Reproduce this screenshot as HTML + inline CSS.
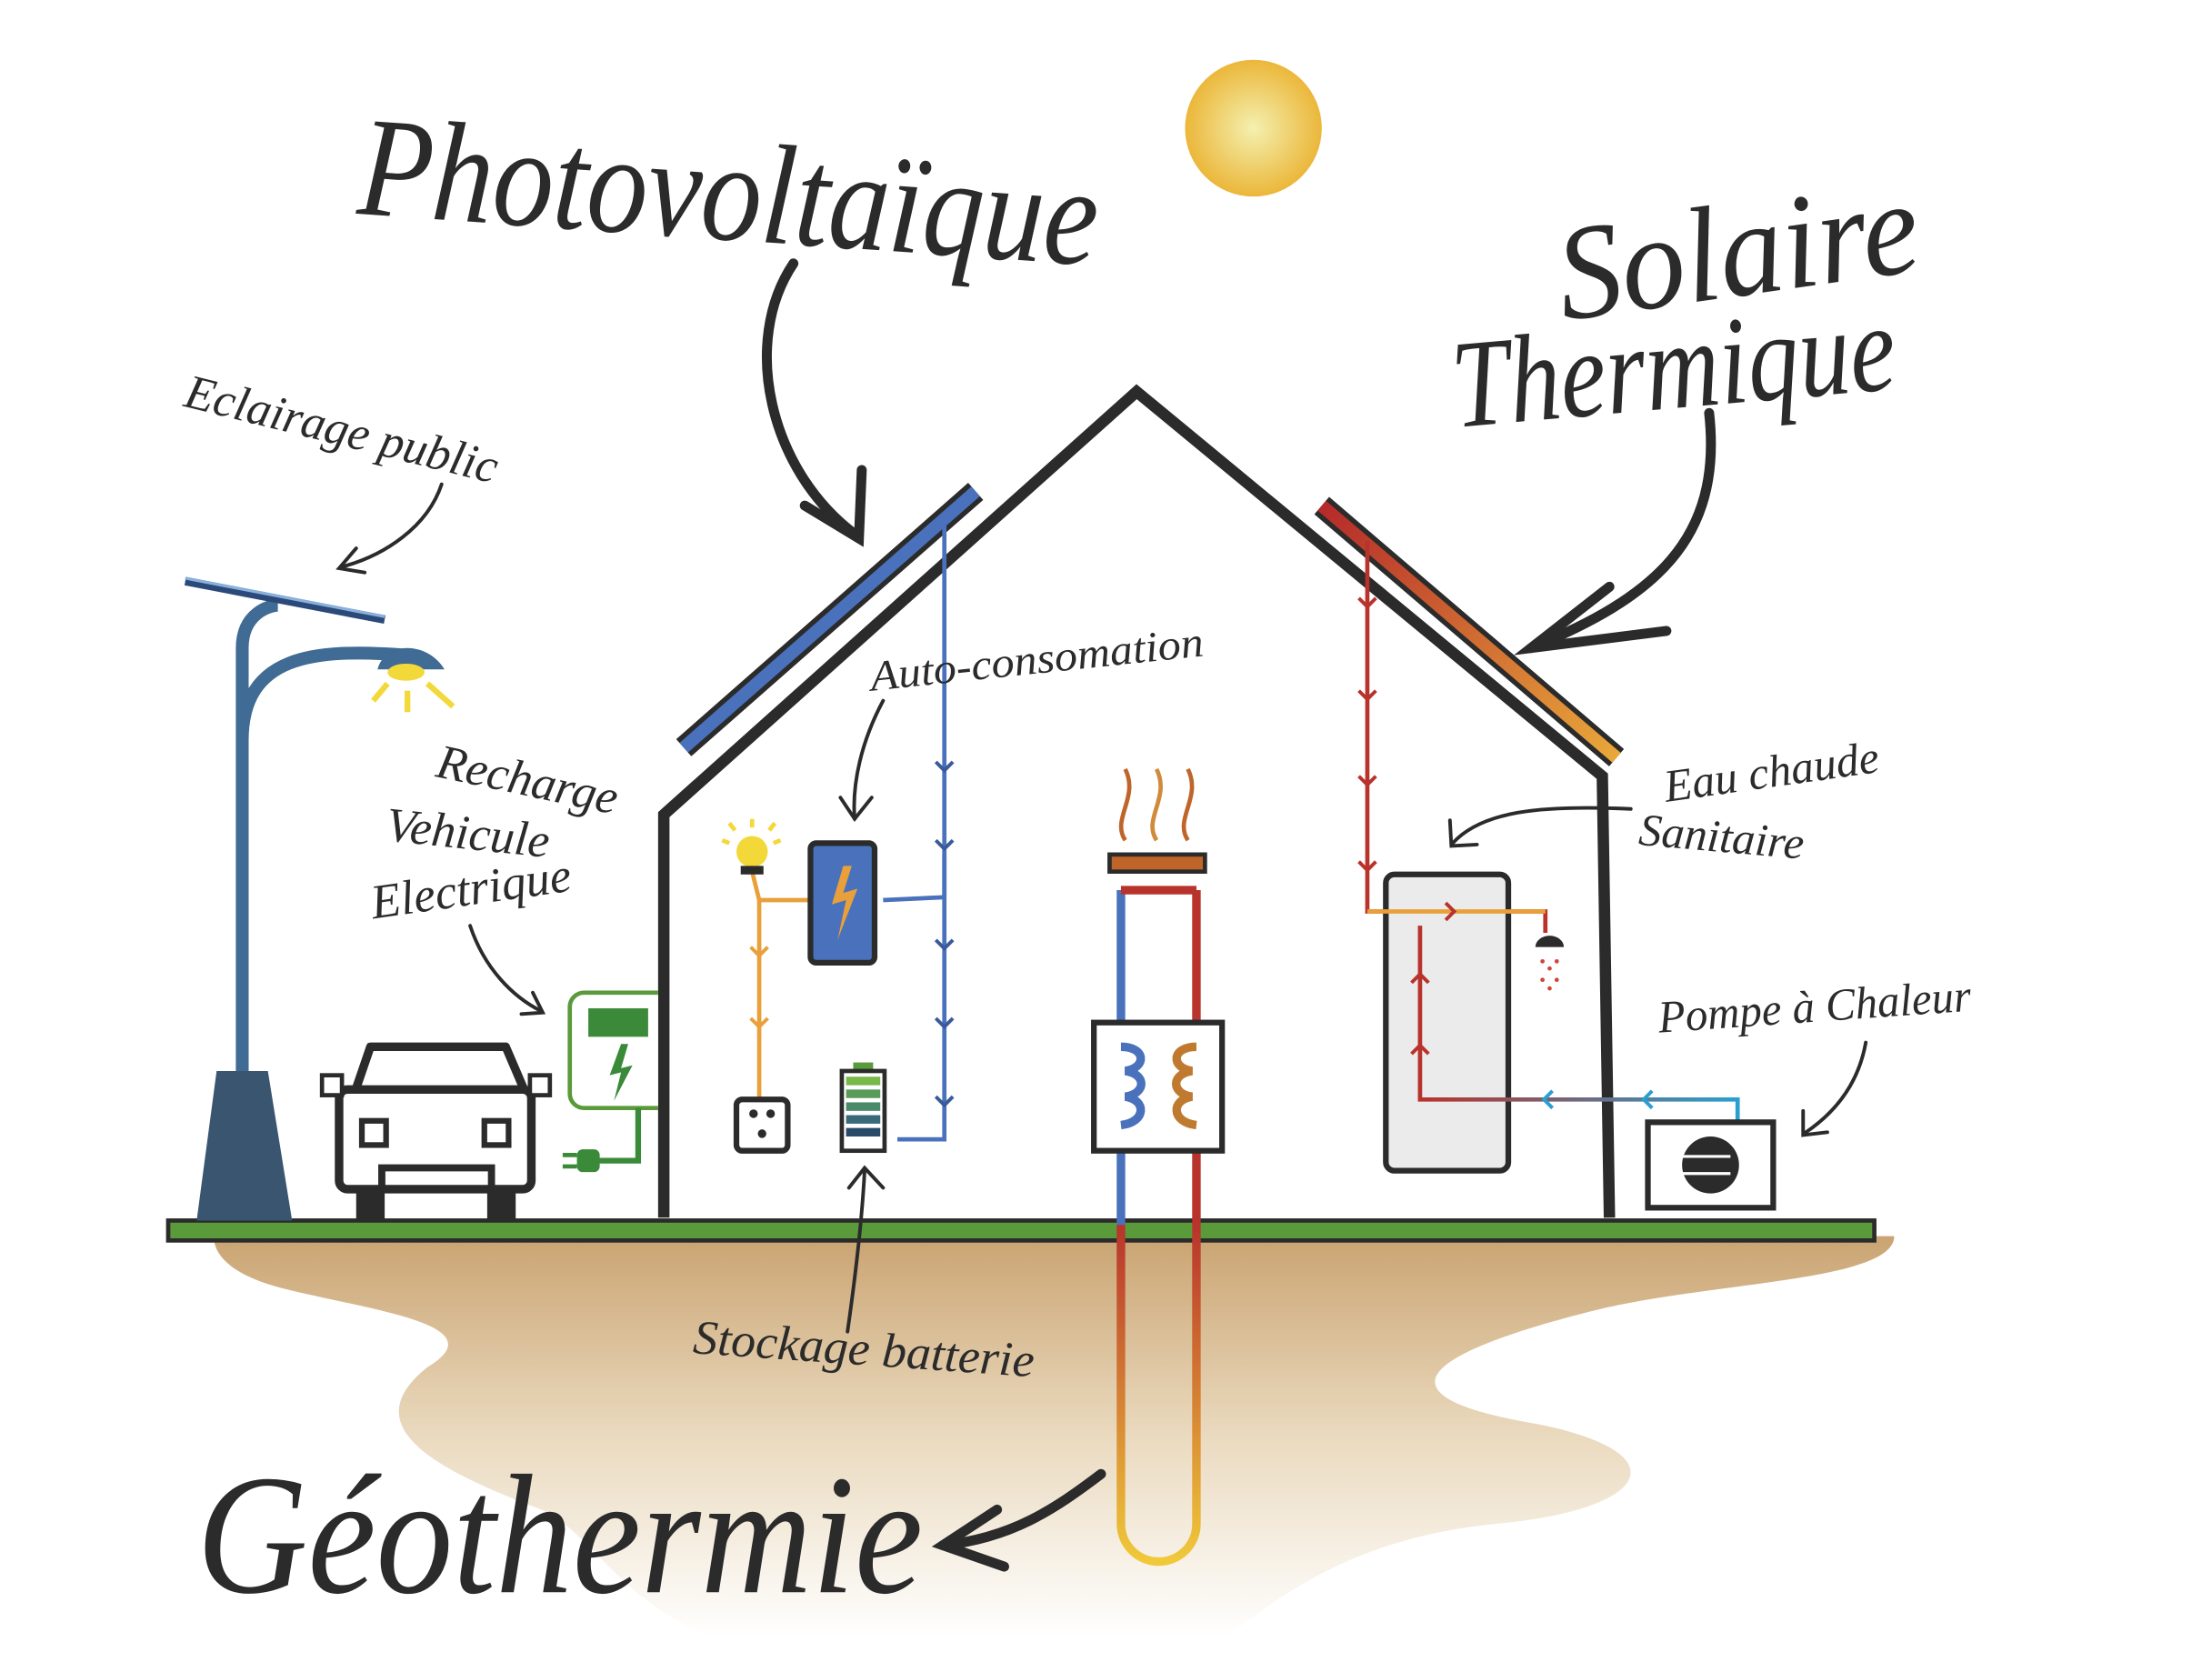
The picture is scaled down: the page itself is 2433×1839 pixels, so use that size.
<!DOCTYPE html>
<html><head><meta charset="utf-8"><style>
html,body{margin:0;padding:0;background:#fff;}
svg{display:block;}
.s{font-family:"Liberation Serif",serif;font-style:italic;fill:#2b2b2b;}
</style></head><body>
<svg width="2433" height="1839" viewBox="0 0 1553 1174" xmlns="http://www.w3.org/2000/svg">
<defs>
<radialGradient id="sun" cx="0.5" cy="0.5" r="0.5"><stop offset="0" stop-color="#f4f0b0"/><stop offset="1" stop-color="#ebb73a"/></radialGradient>
<linearGradient id="th" x1="0" y1="0" x2="1" y2="1"><stop offset="0" stop-color="#b52a2a"/><stop offset="1" stop-color="#e9a83a"/></linearGradient>
<linearGradient id="gr" x1="0" y1="0" x2="0" y2="1"><stop offset="0" stop-color="#c49a62"/><stop offset="0.5" stop-color="#e8d6b8"/><stop offset="1" stop-color="#fff"/></linearGradient>
<linearGradient id="geo2" x1="0" y1="0" x2="0" y2="1"><stop offset="0" stop-color="#b8332c"/><stop offset="1" stop-color="#f0c93a"/></linearGradient>
<linearGradient id="hp" x1="0" y1="0" x2="1" y2="0"><stop offset="0" stop-color="#b8332c"/><stop offset="1" stop-color="#2a9fd0"/></linearGradient>
</defs>
<path d="M150 868 L1330 868 C1330 900 1200 900 1120 920 C1000 950 960 980 1080 1000 C1180 1020 1160 1060 1050 1070 C950 1080 900 1120 860 1150 L500 1150 C430 1120 420 1080 380 1060 C300 1030 250 1000 300 960 C350 930 260 920 200 905 C160 895 150 880 150 868Z" fill="url(#gr)" opacity="0.9"/>
<circle cx="880" cy="90" r="48" fill="url(#sun)"/>
<path d="M466 855 L466 572 L798 275 L1125 545 L1130 855" fill="none" stroke="#2b2b2b" stroke-width="8"/>
<line x1="480" y1="525" x2="685" y2="345" stroke="#2b2b2b" stroke-width="16"/>
<line x1="480" y1="525" x2="685" y2="345" stroke="#4a72bc" stroke-width="9"/>
<line x1="928" y1="355" x2="1135" y2="532" stroke="#2b2b2b" stroke-width="16"/>
<line x1="928" y1="355" x2="1135" y2="532" stroke="url(#th)" stroke-width="9"/>
<rect x="118" y="857" width="1198" height="14" fill="#5a9a3a" stroke="#2b2b2b" stroke-width="3"/>
<path d="M663 360 L663 800 L630 800" fill="none" stroke="#4a72bc" stroke-width="3"/>
<path d="M663 600 L663 630 L620 632" fill="none" stroke="#4a72bc" stroke-width="3"/>
<path d="M569 632 L533 632 L533 772" fill="none" stroke="#e9a03a" stroke-width="3"/>
<path d="M533 632 L528 612" fill="none" stroke="#e9a03a" stroke-width="3"/>
<g fill="none" stroke="#3a5a9a" stroke-width="2.5">
<path d="M657 535 l6 6 l6 -6"/><path d="M657 590 l6 6 l6 -6"/><path d="M657 660 l6 6 l6 -6"/><path d="M657 715 l6 6 l6 -6"/><path d="M657 770 l6 6 l6 -6"/></g>
<g fill="none" stroke="#e9a03a" stroke-width="2.5"><path d="M527 665 l6 6 l6 -6"/><path d="M527 715 l6 6 l6 -6"/></g>
<circle cx="528" cy="598" r="11" fill="#f3d83a"/>
<rect x="520" y="608" width="16" height="6" fill="#2b2b2b"/>
<g stroke="#f3d83a" stroke-width="3"><line x1="528" y1="575" x2="528" y2="581"/><line x1="507" y1="590" x2="512" y2="592"/><line x1="548" y1="590" x2="543" y2="592"/><line x1="512" y1="578" x2="516" y2="583"/><line x1="544" y1="578" x2="540" y2="583"/></g>
<rect x="569" y="592" width="45" height="84" rx="4" fill="#4a72bc" stroke="#2b2b2b" stroke-width="4"/>
<path d="M592 608 L584 635 L594 632 L588 660 L602 624 L592 627 L598 608Z" fill="#e9a03a"/>
<rect x="517" y="772" width="36" height="36" rx="4" fill="#fff" stroke="#2b2b2b" stroke-width="4"/>
<circle cx="529" cy="782" r="3" fill="#2b2b2b"/><circle cx="541" cy="782" r="3" fill="#2b2b2b"/><circle cx="535" cy="796" r="3" fill="#2b2b2b"/>
<rect x="599" y="746" width="14" height="6" fill="#5a9a3a"/>
<rect x="591" y="752" width="30" height="56" fill="#fff" stroke="#2b2b2b" stroke-width="3"/>
<g><rect x="594" y="756" width="24" height="6" fill="#7ab84a"/><rect x="594" y="765" width="24" height="6" fill="#5a9a5a"/><rect x="594" y="774" width="24" height="6" fill="#4a8a6a"/><rect x="594" y="783" width="24" height="6" fill="#3a6a7a"/><rect x="594" y="792" width="24" height="6" fill="#2a4a6a"/></g>
<path d="M787 625 L787 860" stroke="#4a72bc" stroke-width="6"/>
<path d="M840 625 L840 860" stroke="#b8332c" stroke-width="6"/>
<path d="M840 860 L840 1070 A26 26 0 0 1 787 1070 L787 860" fill="none" stroke="url(#geo2)" stroke-width="6"/>
<path d="M787 625 L840 625" stroke="#b8332c" stroke-width="6"/>
<rect x="768" y="718" width="90" height="90" fill="#fff" stroke="#2b2b2b" stroke-width="4"/>
<path d="M787 735 C805 735 805 750 790 752 C805 754 805 768 790 770 C805 772 805 788 787 790" fill="none" stroke="#4a72bc" stroke-width="6"/>
<path d="M840 735 C822 735 822 750 837 752 C822 754 822 768 837 770 C822 772 822 788 840 790" fill="none" stroke="#c07a30" stroke-width="6"/>
<rect x="779" y="600" width="67" height="12" fill="#c0652a" stroke="#2b2b2b" stroke-width="3"/>
<g fill="none" stroke-width="3"><path d="M790 590 C780 575 800 560 790 540" stroke="#c0652a"/><path d="M812 590 C802 575 822 560 812 540" stroke="#d08a3a"/><path d="M834 590 C824 575 844 560 834 540" stroke="#c0652a"/></g>
<path d="M960 380 L960 640 L1085 640 L1085 655" fill="none" stroke="#b8332c" stroke-width="3"/>
<rect x="973" y="614" width="86" height="208" rx="6" fill="#ebebeb" stroke="#2b2b2b" stroke-width="4"/>
<path d="M960 640 L1085 640" stroke="#e9a03a" stroke-width="3"/>
<path d="M997 650 L997 772 L1220 772 L1220 788" fill="none" stroke="url(#hp)" stroke-width="3"/>
<g fill="none" stroke="#b8332c" stroke-width="2.5"><path d="M954 420 l6 6 l6 -6"/><path d="M954 485 l6 6 l6 -6"/><path d="M954 545 l6 6 l6 -6"/><path d="M954 605 l6 6 l6 -6"/><path d="M1015 634 l6 6 l-6 6"/><path d="M991 690 l6 -6 l6 6"/><path d="M991 740 l6 -6 l6 6"/></g>
<g fill="none" stroke="#2a9fd0" stroke-width="2.5"><path d="M1160 766 l-6 6 l6 6"/><path d="M1090 766 l-6 6 l6 6"/></g>
<path d="M1078 665 A10 8 0 0 1 1098 665Z" fill="#2b2b2b"/>
<g fill="#d0453a"><circle cx="1083" cy="675" r="1.5"/><circle cx="1088" cy="680" r="1.5"/><circle cx="1093" cy="675" r="1.5"/><circle cx="1083" cy="688" r="1.5"/><circle cx="1093" cy="688" r="1.5"/><circle cx="1088" cy="694" r="1.5"/></g>
<rect x="1157" y="788" width="88" height="60" fill="#fff" stroke="#2b2b2b" stroke-width="4"/>
<circle cx="1201" cy="818" r="20" fill="#2b2b2b"/>
<g stroke="#fff" stroke-width="2"><line x1="1181" y1="812" x2="1215" y2="812"/><line x1="1181" y1="824" x2="1215" y2="824"/></g>
<path d="M170 760 L170 455 C170 430 190 425 195 425 M170 520 C170 460 220 455 285 460" fill="none" stroke="#3f6b94" stroke-width="9"/>
<line x1="130" y1="408" x2="270" y2="435" stroke="#2b4a7a" stroke-width="6"/>
<line x1="130" y1="406" x2="270" y2="433" stroke="#8ab0dc" stroke-width="2"/>
<path d="M265 470 C270 450 300 450 312 470Z" fill="#3f6b94"/>
<ellipse cx="285" cy="472" rx="13" ry="6" fill="#f3d83a"/>
<g stroke="#f3d83a" stroke-width="4"><line x1="272" y1="480" x2="262" y2="492"/><line x1="286" y1="485" x2="286" y2="500"/><line x1="300" y1="480" x2="318" y2="496"/></g>
<path d="M152 752 L188 752 L205 857 L138 857Z" fill="#3a5570"/>
<path d="M248 770 L260 735 L355 735 L370 770Z" fill="#fff" stroke="#2b2b2b" stroke-width="6" stroke-linejoin="round"/>
<rect x="238" y="765" width="135" height="70" rx="6" fill="#fff" stroke="#2b2b2b" stroke-width="6"/>
<rect x="226" y="755" width="14" height="14" fill="#fff" stroke="#2b2b2b" stroke-width="3"/>
<rect x="372" y="755" width="14" height="14" fill="#fff" stroke="#2b2b2b" stroke-width="3"/>
<rect x="254" y="787" width="17" height="17" fill="#fff" stroke="#2b2b2b" stroke-width="4"/>
<rect x="340" y="787" width="17" height="17" fill="#fff" stroke="#2b2b2b" stroke-width="4"/>
<path d="M268 835 L268 820 L345 820 L345 835" fill="none" stroke="#2b2b2b" stroke-width="5"/>
<rect x="250" y="835" width="20" height="22" fill="#2b2b2b"/><rect x="342" y="835" width="20" height="22" fill="#2b2b2b"/>
<path d="M462 697 L410 697 A10 10 0 0 0 400 707 L400 768 A10 10 0 0 0 410 778 L462 778" fill="#fff" stroke="#5a9a3a" stroke-width="3"/>
<rect x="413" y="708" width="42" height="20" fill="#3a8a3a"/>
<path d="M436 733 L428 755 L436 753 L431 773 L444 748 L436 750 L441 733Z" fill="#3a8a3a"/>
<path d="M448 778 L448 815 L420 815" fill="none" stroke="#3a8a3a" stroke-width="4"/>
<rect x="405" y="807" width="16" height="16" rx="4" fill="#3a8a3a"/>
<line x1="395" y1="811" x2="405" y2="811" stroke="#3a8a3a" stroke-width="3"/><line x1="395" y1="819" x2="405" y2="819" stroke="#3a8a3a" stroke-width="3"/>
<g fill="none" stroke="#2b2b2b" stroke-width="7" stroke-linecap="round">
<path d="M557 185 C520 240 540 330 600 375"/><path d="M565 355 L603 378 L605 330"/>
<path d="M1200 290 C1210 380 1160 420 1075 455"/><path d="M1130 412 L1075 455 L1170 443"/>
<path d="M773 1035 C740 1060 710 1080 662 1085"/><path d="M700 1060 L662 1085 L705 1100"/>
</g>
<g fill="none" stroke="#2b2b2b" stroke-width="2.5" stroke-linecap="round">
<path d="M310 340 C300 370 270 390 240 398"/><path d="M250 385 L238 399 L256 402"/>
<path d="M620 492 C605 520 598 550 600 575"/><path d="M590 560 L600 575 L612 560"/>
<path d="M330 650 C340 680 360 700 380 710"/><path d="M366 712 L381 711 L374 697"/>
<path d="M595 935 C600 900 605 860 607 822"/><path d="M596 834 L607 820 L620 834"/>
<path d="M1145 568 C1080 565 1040 570 1020 592"/><path d="M1018 576 L1019 594 L1037 593"/>
<path d="M1310 732 C1305 760 1290 780 1268 795"/><path d="M1266 780 L1266 797 L1283 795"/>
</g>
<text class="s" x="250" y="150" font-size="100" textLength="520" lengthAdjust="spacingAndGlyphs" transform="rotate(4 250 150)">Photovoltaïque</text>
<text class="s" x="1098" y="225" font-size="95" textLength="255" lengthAdjust="spacingAndGlyphs" transform="rotate(-8 1098 225)">Solaire</text>
<text class="s" x="1022" y="300" font-size="88" textLength="312" lengthAdjust="spacingAndGlyphs" transform="rotate(-5 1022 300)">Thermique</text>
<text class="s" x="138" y="1118" font-size="120" textLength="510" lengthAdjust="spacingAndGlyphs">Géothermie</text>
<text class="s" x="128" y="285" font-size="34" textLength="225" lengthAdjust="spacingAndGlyphs" transform="rotate(14 128 285)">Eclairage public</text>
<text class="s" x="305" y="545" font-size="34" transform="rotate(12 305 545)">Recharge</text>
<text class="s" x="270" y="590" font-size="34" transform="rotate(6 270 590)">Vehicule</text>
<text class="s" x="262" y="645" font-size="34" transform="rotate(-8 262 645)">Electrique</text>
<text class="s" x="612" y="485" font-size="30" textLength="235" lengthAdjust="spacingAndGlyphs" transform="rotate(-6 612 485)">Auto-consomation</text>
<text class="s" x="1170" y="563" font-size="32" transform="rotate(-8 1170 563)">Eau chaude</text>
<text class="s" x="1150" y="593" font-size="32" transform="rotate(5 1150 593)">Sanitaire</text>
<text class="s" x="1165" y="725" font-size="32" textLength="220" lengthAdjust="spacingAndGlyphs" transform="rotate(-4 1165 725)">Pompe à Chaleur</text>
<text class="s" x="486" y="950" font-size="34" textLength="240" lengthAdjust="spacingAndGlyphs" transform="rotate(4 486 950)">Stockage batterie</text>
</svg>
</body></html>
